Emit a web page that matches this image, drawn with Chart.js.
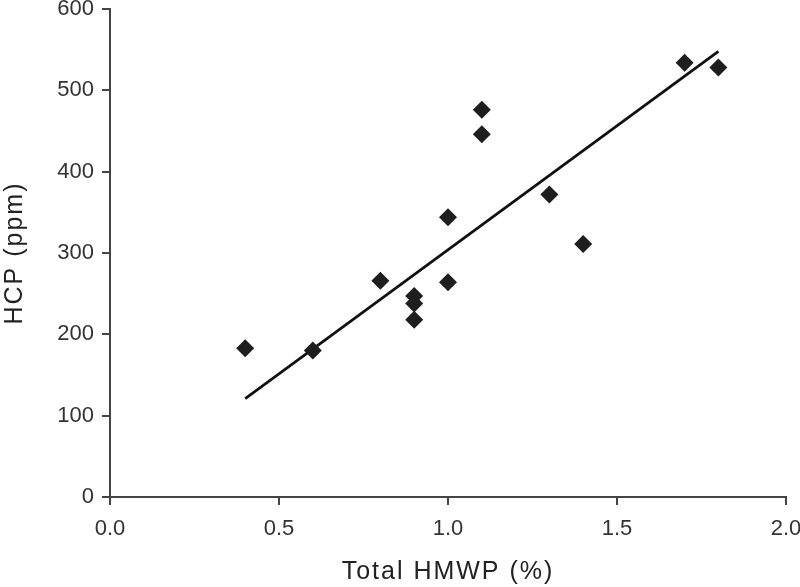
<!DOCTYPE html>
<html>
<head>
<meta charset="utf-8">
<script src="https://cdn.jsdelivr.net/npm/chart.js@4"></script>
<style>
  html, body { margin: 0; padding: 0; background: #fff; }
  #wrap { width: 800px; height: 587px; }
</style>
</head>
<body>
<div id="wrap"><canvas id="myChart" width="800" height="587"></canvas></div>
<script>
// data
const hmwp = [0.4, 0.6, 0.8, 0.9, 0.9, 0.9, 1.0, 1.0, 1.1, 1.1, 1.3, 1.4, 1.7, 1.8];
const hcp = [183, 180, 266, 247, 238, 218, 344, 264, 476, 446, 372, 311, 534, 528];
// regression line end points
const fitX = [0.4, 1.8];
const fitY = [121, 548];

const points = hmwp.map((x, i) => ({ x: x, y: hcp[i] }));
const fitLine = fitX.map((x, i) => ({ x: x, y: fitY[i] }));

const axisColor = '#444';
const font = 'Liberation Sans, Arial, Helvetica, sans-serif';

const ctx = document.getElementById('myChart').getContext('2d');
const chart = new Chart(ctx, {
    type: 'scatter',
    data: {
        datasets: [{
            label: 'HCP',
            data: points,
            pointStyle: 'rectRot',
            pointRadius: 9,
            pointHoverRadius: 9,
            backgroundColor: '#1e1e1e',
            borderColor: '#1e1e1e',
            borderWidth: 0
        }, {
            label: 'Fit',
            type: 'line',
            data: fitLine,
            borderColor: '#111',
            borderWidth: 2.8,
            pointRadius: 0,
            fill: false
        }]
    },
    options: {
        responsive: false,
        animation: false,
        layout: { padding: { top: 7, right: 14, left: 0, bottom: 0 } },
        plugins: {
            legend: { display: false },
            tooltip: { enabled: false }
        },
        scales: {
            x: {
                type: 'linear',
                min: 0,
                max: 2,
                afterFit(scale) {
                    scale.height = 90;
                    scale.paddingLeft = 0;
                    scale.paddingRight = 0;
                },
                ticks: {
                    stepSize: 0.5,
                    color: '#333',
                    padding: 11,
                    font: { family: font, size: 22 },
                    callback: v => v.toFixed(1)
                },
                grid: { drawOnChartArea: false, drawTicks: true, tickLength: 8, color: axisColor, lineWidth: 2 },
                border: { color: axisColor, width: 2 },
                title: {
                    display: true,
                    text: 'Total HMWP (%)',
                    color: '#222',
                    font: { family: font, size: 25 },
                    padding: { top: 6, bottom: 0 }
                }
            },
            y: {
                min: 0,
                max: 600,
                afterFit(scale) {
                    scale.width = 110;
                    scale.paddingTop = 0;
                    scale.paddingBottom = 0;
                },
                ticks: {
                    stepSize: 100,
                    color: '#333',
                    padding: 8,
                    font: { family: font, size: 22 }
                },
                grid: { drawOnChartArea: false, drawTicks: true, tickLength: 8, color: axisColor, lineWidth: 2 },
                border: { color: axisColor, width: 2 },
                title: {
                    display: true,
                    text: 'HCP (ppm)',
                    color: '#222',
                    font: { family: font, size: 25 },
                    padding: { top: 0, bottom: 12 }
                }
            }
        }
    }
});

// the axis titles in the figure are set with a little letter spacing
Object.values(chart.scales).forEach(scale => {
    const drawTitle = scale.drawTitle;
    scale.drawTitle = function () {
        const c = this.ctx;
        const prev = c.letterSpacing;
        c.letterSpacing = '2px';
        drawTitle.call(this);
        c.letterSpacing = prev || '0px';
    };
});
chart.draw();
</script>
</body>
</html>
